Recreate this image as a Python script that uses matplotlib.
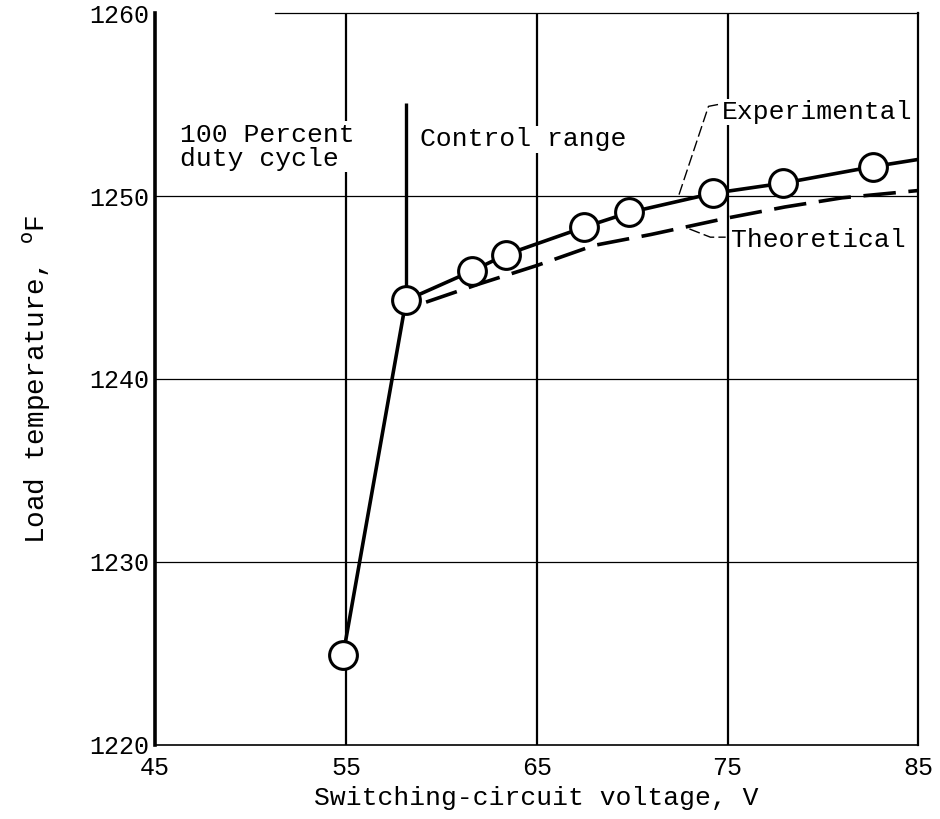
import matplotlib
matplotlib.use('Agg')
import matplotlib.pyplot as plt

# experimental points (switching-circuit voltage, load temperature)
exp_v = [54.85, 58.15, 61.6, 63.4, 67.5, 69.85, 74.25, 77.9, 82.6]
exp_t = [1224.9, 1244.3, 1245.9, 1246.8, 1248.3, 1249.1, 1250.15, 1250.7, 1251.6]
# faired experimental curve continues to the right edge
exp_end_v = 85
exp_end_t = 1252.0

# theoretical curve
theo_v = [59.2, 62, 65, 68, 71, 75, 78, 81, 85]
theo_t = [1244.2, 1245.2, 1246.2, 1247.3, 1247.9, 1248.8, 1249.4, 1249.9, 1250.3]

xticks = [45, 55, 65, 75, 85]
yticks = [1220, 1230, 1240, 1250, 1260]
control_v = 58.15

plt.rcParams['font.family'] = ['Liberation Mono', 'DejaVu Sans']

fig = plt.figure(figsize=(9.4, 8.19), dpi=100)
ax = fig.add_axes([0.165, 0.0904, 0.812, 0.8937])

ax.set_xlim(45, 85)
ax.set_ylim(1220, 1260)
ax.set_xticks(xticks)
ax.set_yticks(yticks)
ax.tick_params(length=0, labelsize=18)
ax.tick_params(axis='x', pad=8)
ax.tick_params(axis='y', pad=4)

# grid
for v in xticks[1:-1]:
    ax.axvline(v, color='k', lw=1.6, zorder=1)
for t in yticks[1:-1]:
    ax.axhline(t, color='k', lw=0.9, zorder=1)

ax.spines['left'].set_linewidth(2.6)
ax.spines['bottom'].set_linewidth(1.2)
ax.spines['right'].set_linewidth(1.6)
ax.spines['top'].set_linewidth(0.9)
ax.spines['top'].set_bounds(51.3, 85)

# control range boundary
ax.vlines(control_v, exp_t[1], 1255.1, color='k', lw=2.4, zorder=2)

# curves
ax.plot(theo_v, theo_t, color='k', lw=2.6, dashes=(9, 3.5), zorder=3)
ax.plot(exp_v + [exp_end_v], exp_t + [exp_end_t], color='k', lw=2.6, zorder=4)
ax.plot(exp_v, exp_t, 'o', ms=20, mfc='white', mec='k', mew=2.2, zorder=5, clip_on=False)

box = dict(facecolor='white', edgecolor='none', pad=1)
ax.text(46.3, 1252.7, '100 Percent\nduty cycle', fontsize=19, va='center', ha='left',
        linespacing=1.0, bbox=box, zorder=6)
ax.text(58.9, 1253.1, 'Control range', fontsize=19, va='center', ha='left', bbox=box, zorder=6)
ax.text(74.7, 1254.6, 'Experimental', fontsize=19, va='center', ha='left', bbox=box, zorder=6)
ax.text(75.2, 1247.6, 'Theoretical', fontsize=19, va='center', ha='left', bbox=box, zorder=6)

# leader lines
ax.plot([74.5, 74.0, 72.4], [1255.0, 1254.9, 1249.9], color='k', lw=1.0, dashes=(8, 3), zorder=6)
ax.plot([73.0, 74.1, 74.9], [1248.2, 1247.75, 1247.75], color='k', lw=1.0, dashes=(8, 3), zorder=6)

ax.set_xlabel('Switching-circuit voltage, V', fontsize=19, labelpad=4)
ax.set_ylabel(r'Load temperature, $^{\mathrm{o}}$F', fontsize=20, labelpad=26)

fig.savefig('out.png', dpi=100)
